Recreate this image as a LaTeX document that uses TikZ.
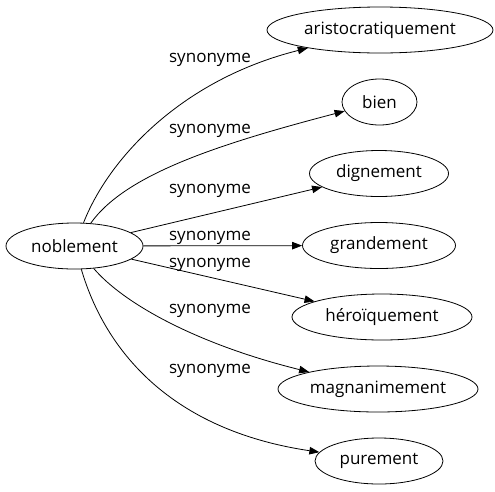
\documentclass[tikz,border=0pt]{standalone}
\usepackage{fontspec}
\setmainfont{Open Sans}
\usetikzlibrary{shapes.geometric,arrows.meta}
\begin{document}
\begin{tikzpicture}[x=1pt,y=-1pt,
		mot/.style={draw, ellipse, line width=0.8pt, inner sep=0pt, minimum height=46pt, font=\fontsize{17pt}{17pt}\selectfont},
		syn/.style={inner sep=0pt, font=\fontsize{17pt}{17pt}\selectfont},
		lien/.style={line width=0.8pt, -{Triangle[length=10pt,width=7.5pt]}}]
						\useasboundingbox (0,0) rectangle (495,491);
						\node[mot, minimum width=137pt] (noblement) at (74.5,246) {noblement};
						\node[mot, minimum width=226pt] (aristocratiquement) at (380,30) {aristocratiquement};
						\node[mot, minimum width=75pt] (bien) at (379.5,102) {bien};
						\node[mot, minimum width=139pt] (dignement) at (379,173.5) {dignement};
						\node[mot, minimum width=153pt] (grandement) at (379,245.5) {grandement};
						\node[mot, minimum width=180pt] (heroiquement) at (382,317) {héroïquement};
						\node[mot, minimum width=200pt] (magnanimement) at (378,389) {magnanimement};
						\node[mot, minimum width=128pt] (purement) at (379,461) {purement};
						\draw[lien] (noblement) .. controls (108,160) and (180,80) .. (aristocratiquement);
						\draw[lien] (noblement) .. controls (125,175) and (215,145) .. (bien);
						\draw[lien] (noblement) -- (dignement);
						\draw[lien] (noblement) -- (grandement);
						\draw[lien] (noblement) -- (heroiquement);
						\draw[lien] (noblement) .. controls (125,305) and (200,345) .. (magnanimement);
						\draw[lien] (noblement) .. controls (105,350) and (170,430) .. (purement);
						\node[syn] (syn1) at (210,60) {synonyme};
						\node[syn] (syn2) at (210,131) {synonyme};
						\node[syn] (syn3) at (210,191) {synonyme};
						\node[syn] (syn4) at (210,238) {synonyme};
						\node[syn] (syn5) at (210,265) {synonyme};
						\node[syn] (syn6) at (210,311) {synonyme};
						\node[syn] (syn7) at (210,371) {synonyme};
\end{tikzpicture}
\end{document}
